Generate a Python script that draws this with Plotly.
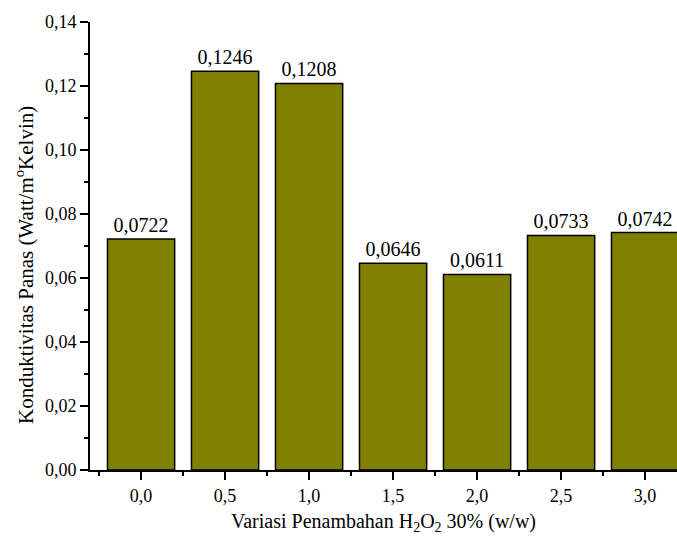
import plotly.graph_objects as go

categories = [0.0, 0.5, 1.0, 1.5, 2.0, 2.5, 3.0]
values = [0.0722, 0.1246, 0.1208, 0.0646, 0.0611, 0.0733, 0.0742]
minor_x = [-0.25, 0.25, 0.75, 1.25, 1.75, 2.25, 2.75]

x_title = "Variasi Penambahan H<sub>2</sub>O<sub>2</sub> 30% (w/w)"
y_title = "Konduktivitas Panas (Watt/m<sup>o</sup>Kelvin)"

FONT = "Liberation Serif, Times New Roman, serif"

fig = go.Figure(go.Bar(
    x=categories, y=values, width=0.4,
    marker=dict(color="#808000", line=dict(color="black", width=1.5)),
    texttemplate="%{y:.4f}", textposition="outside", cliponaxis=False,
    textfont=dict(family=FONT, size=20, color="black"),
))

fig.update_layout(
    width=677, height=536,
    margin=dict(l=90, r=0, t=22, b=66),
    paper_bgcolor="white", plot_bgcolor="white",
    separators=",.",
    showlegend=False,
    font=dict(family=FONT, color="black"),
    xaxis=dict(
        range=[-0.304, 3.19], tickvals=categories, tickformat=".1f",
        showline=True, linecolor="black", linewidth=2,
        ticks="outside", ticklen=8, tickwidth=1.5, tickcolor="black",
        minor=dict(tickvals=minor_x, ticks="outside", ticklen=4, tickwidth=1.5, tickcolor="black"),
        showgrid=False, zeroline=False,
        tickfont=dict(size=18, family=FONT),
        title=dict(text=x_title, font=dict(size=20, family=FONT), standoff=9),
    ),
    yaxis=dict(
        range=[0, 0.14], dtick=0.02, tick0=0, tickformat=".2f",
        showline=True, linecolor="black", linewidth=2,
        ticks="outside", ticklen=8, tickwidth=1.5, tickcolor="black",
        minor=dict(dtick=0.01, ticks="outside", ticklen=4, tickwidth=1.5, tickcolor="black"),
        showgrid=False, zeroline=False,
        tickfont=dict(size=18, family=FONT),
    ),
    annotations=[dict(
        text=y_title, textangle=-90, showarrow=False,
        xref="paper", yref="paper", x=(24 - 90) / 587, y=(470 - 265) / 448,
        xanchor="center", yanchor="middle",
        font=dict(size=21, family=FONT, color="black"),
    )],
)

fig.write_html("out.html", config={"displayModeBar": False},
               post_script="document.body.style.margin='0';")
